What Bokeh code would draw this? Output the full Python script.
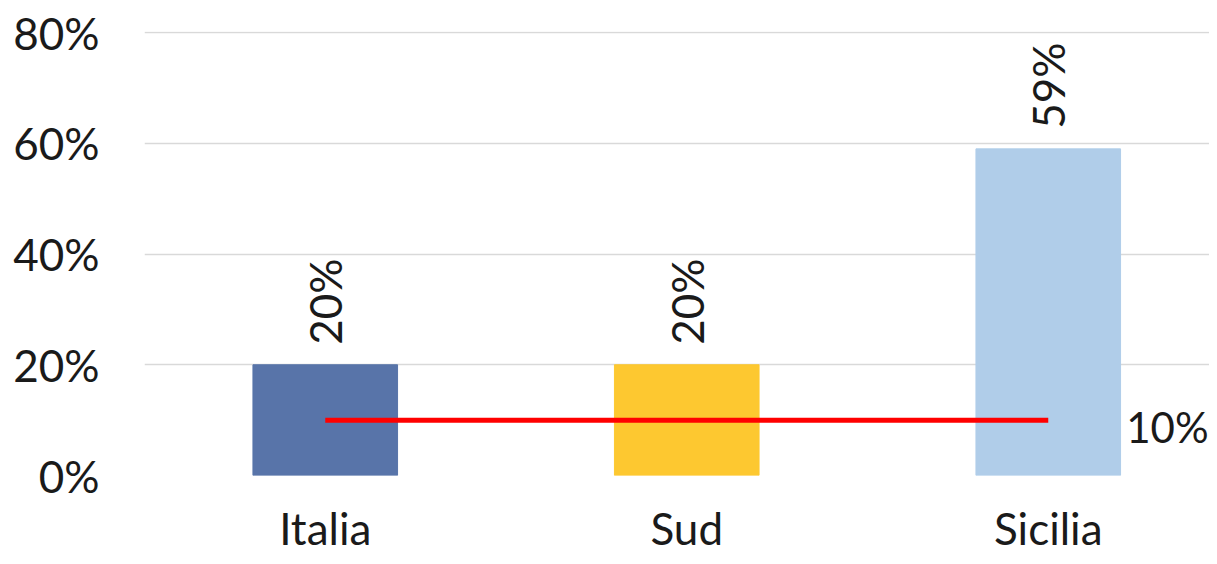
import math
from bokeh.plotting import figure
from bokeh.models import Range1d, FixedTicker, PrintfTickFormatter, ColumnDataSource
from bokeh.core.properties import value
from bokeh.embed import file_html
from bokeh.resources import INLINE

categories = ["Italia", "Sud", "Sicilia"]
values = [20, 20, 59]
bar_colors = ["#5874a9", "#fdc830", "#b0cde9"]
threshold = [10, 10, 10]
value_labels = ["20%", "20%", "59%"]
threshold_label = "10%"
y_ticks = [0, 20, 40, 60, 80]

FONT = "Lato"
FS = "44px"
TXT = "#1a1a1a"

xs = list(range(len(categories)))
src = ColumnDataSource(dict(x=xs, top=values, color=bar_colors, label=value_labels))

p = figure(width=1209, height=556, output_backend="svg", toolbar_location=None,
           x_range=Range1d(-0.5, -0.5 + 1065 / 361.5), y_range=Range1d(0, 80.2),
           min_border_left=144, min_border_right=0, min_border_top=31, min_border_bottom=80)
p.outline_line_color = None
p.background_fill_color = "white"
p.border_fill_color = "white"

p.vbar(x="x", top="top", width=0.4, color="color", source=src)
p.line(xs, threshold, line_color="#ff0000", line_width=5)

p.text(x="x", y="top", text="label", source=src, angle=math.pi / 2,
       text_align="left", text_baseline="middle", y_offset=-20,
       text_font=value(FONT), text_font_size=FS, text_color=TXT)
p.text(x=[xs[-1]], y=[threshold[-1]], text=[threshold_label], x_offset=78,
       text_align="left", text_baseline="middle", y_offset=7,
       text_font=value(FONT), text_font_size="42px", text_color=TXT)

p.xgrid.grid_line_color = None
p.ygrid.grid_line_color = "#d9d9d9"
p.ygrid.grid_line_width = 1.5

p.yaxis.ticker = FixedTicker(ticks=y_ticks)
p.yaxis.formatter = PrintfTickFormatter(format="%d%%")
p.xaxis.ticker = FixedTicker(ticks=xs)
p.xaxis.major_label_overrides = {i: c for i, c in enumerate(categories)}

for ax in (p.xaxis, p.yaxis):
    ax.axis_line_color = None
    ax.major_tick_line_color = None
    ax.minor_tick_line_color = None
    ax.major_tick_out = 0
    ax.major_tick_in = 0
    ax.major_label_text_font = FONT
    ax.major_label_text_font_size = FS
    ax.major_label_text_color = TXT
p.yaxis.major_label_standoff = 45
p.xaxis.major_label_standoff = 26

open("out.html", "w").write(file_html(p, INLINE))
